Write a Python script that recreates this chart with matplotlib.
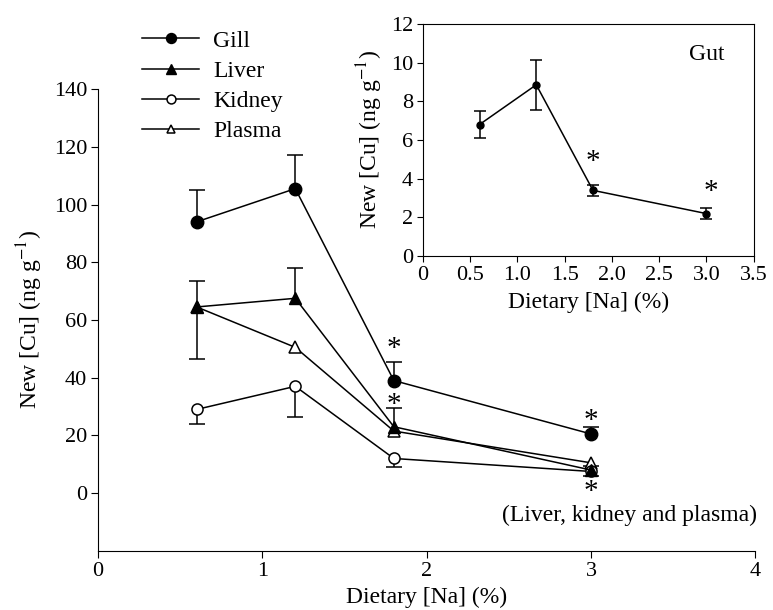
import matplotlib
matplotlib.use("Agg")
import matplotlib.pyplot as plt
import numpy as np

plt.rcParams['font.family'] = ['Liberation Serif', 'DejaVu Serif']
plt.rcParams['mathtext.fontset'] = 'stix'

# données principales
na = [0.6, 1.2, 1.8, 3.0]
gill = [94, 105.5, 39, 20.5]
gill_up = [11, 11.5, 6.5, 2.5]
liver = [64.5, 67.5, 23, 8]
liver_up = [9, 10.5, 6.5, 1.5]
kidney = [29, 37, 12, 7.5]
kidney_lo = [5, 10.5, 3, 1.5]
plasma = [64.5, 50.5, 21.5, 10.5]
plasma_lo = [18, 0, 0, 0]

# encart (intestin)
gut = [6.8, 8.85, 3.4, 2.2]
gut_err = [0.7, 1.3, 0.3, 0.3]

LW = 1.1


def barre(ax, x, y, e, sens, cap=11):
    # barre d'erreur d'un seul côté
    x, y, e = np.array(x), np.array(y), np.array(e)
    m = e > 0
    fin = y[m] + sens * e[m]
    ax.vlines(x[m], y[m], fin, color='black', lw=LW, zorder=1)
    ax.plot(x[m], fin, ls='none', marker='_', ms=cap, mew=LW, color='black', zorder=1)


fig = plt.figure(figsize=(7.73, 6.10), dpi=100)
ax = fig.add_axes([0.127, 0.097, 0.850, 0.757])

barre(ax, na, plasma, plasma_lo, -1)
barre(ax, na, kidney, kidney_lo, -1)
barre(ax, na, liver, liver_up, 1)
barre(ax, na, gill, gill_up, 1)

h_pl, = ax.plot(na, plasma, '-^', color='black', lw=LW, ms=8, mfc='white', mew=1.1, label='Plasma')
h_ki, = ax.plot(na, kidney, '-o', color='black', lw=LW, ms=8, mfc='white', mew=1.1, label='Kidney')
h_li, = ax.plot(na, liver, '-^', color='black', lw=LW, ms=9, mfc='black', label='Liver')
h_gi, = ax.plot(na, gill, '-o', color='black', lw=LW, ms=9, mfc='black', label='Gill')

# astérisques
for x, y in [(1.8, 50), (1.8, 30.5), (3.0, 25), (3.0, 0.5)]:
    ax.text(x, y, '*', fontsize=21, ha='center', va='center')
ax.text(4.01, -7.7, '(Liver, kidney and plasma)', fontsize=17, ha='right', va='center', clip_on=False)

ax.set_xlim(0, 4)
ax.set_ylim(-20, 140)
ax.set_xticks([0, 1, 2, 3, 4])
ax.set_yticks([0, 20, 40, 60, 80, 100, 120, 140])
ax.spines['top'].set_visible(False)
ax.spines['right'].set_visible(False)
ax.tick_params(labelsize=16, direction='out', length=5, pad=3)
ax.set_xlabel('Dietary [Na] (%)', fontsize=17, labelpad=4)
ax.set_ylabel('New [Cu] (ng g$^{-1}$)', fontsize=17, labelpad=6)

fig.legend(handles=[h_gi, h_li, h_ki, h_pl], loc='upper left', bbox_to_anchor=(0.169, 0.970),
           frameon=False, fontsize=17, handlelength=2.4, labelspacing=0.37,
           handletextpad=0.6, borderpad=0, markerscale=0.8)

# encart
ins = fig.add_axes([0.547, 0.580, 0.428, 0.381])
ins.errorbar(na, gut, yerr=gut_err, fmt='-o', ms=5, color='black', lw=LW,
             ecolor='black', elinewidth=LW, capsize=4, capthick=LW)
ins.text(1.8, 4.85, '*', fontsize=21, ha='center', va='center')
ins.text(3.05, 3.3, '*', fontsize=21, ha='center', va='center')
ins.text(3.0, 10.4, 'Gut', fontsize=17, ha='center', va='center')
ins.set_xlim(0, 3.5)
ins.set_ylim(0, 12)
ins.set_xticks([0, 0.5, 1.0, 1.5, 2.0, 2.5, 3.0, 3.5])
ins.set_xticklabels(['0', '0.5', '1.0', '1.5', '2.0', '2.5', '3.0', '3.5'])
ins.set_yticks([0, 2, 4, 6, 8, 10, 12])
ins.tick_params(labelsize=16, direction='out', length=4, pad=3)
ins.set_xlabel('Dietary [Na] (%)', fontsize=17, labelpad=5)
ins.set_ylabel('New [Cu] (ng g$^{-1}$)', fontsize=17, labelpad=4)

fig.savefig('out.png', dpi=100)
